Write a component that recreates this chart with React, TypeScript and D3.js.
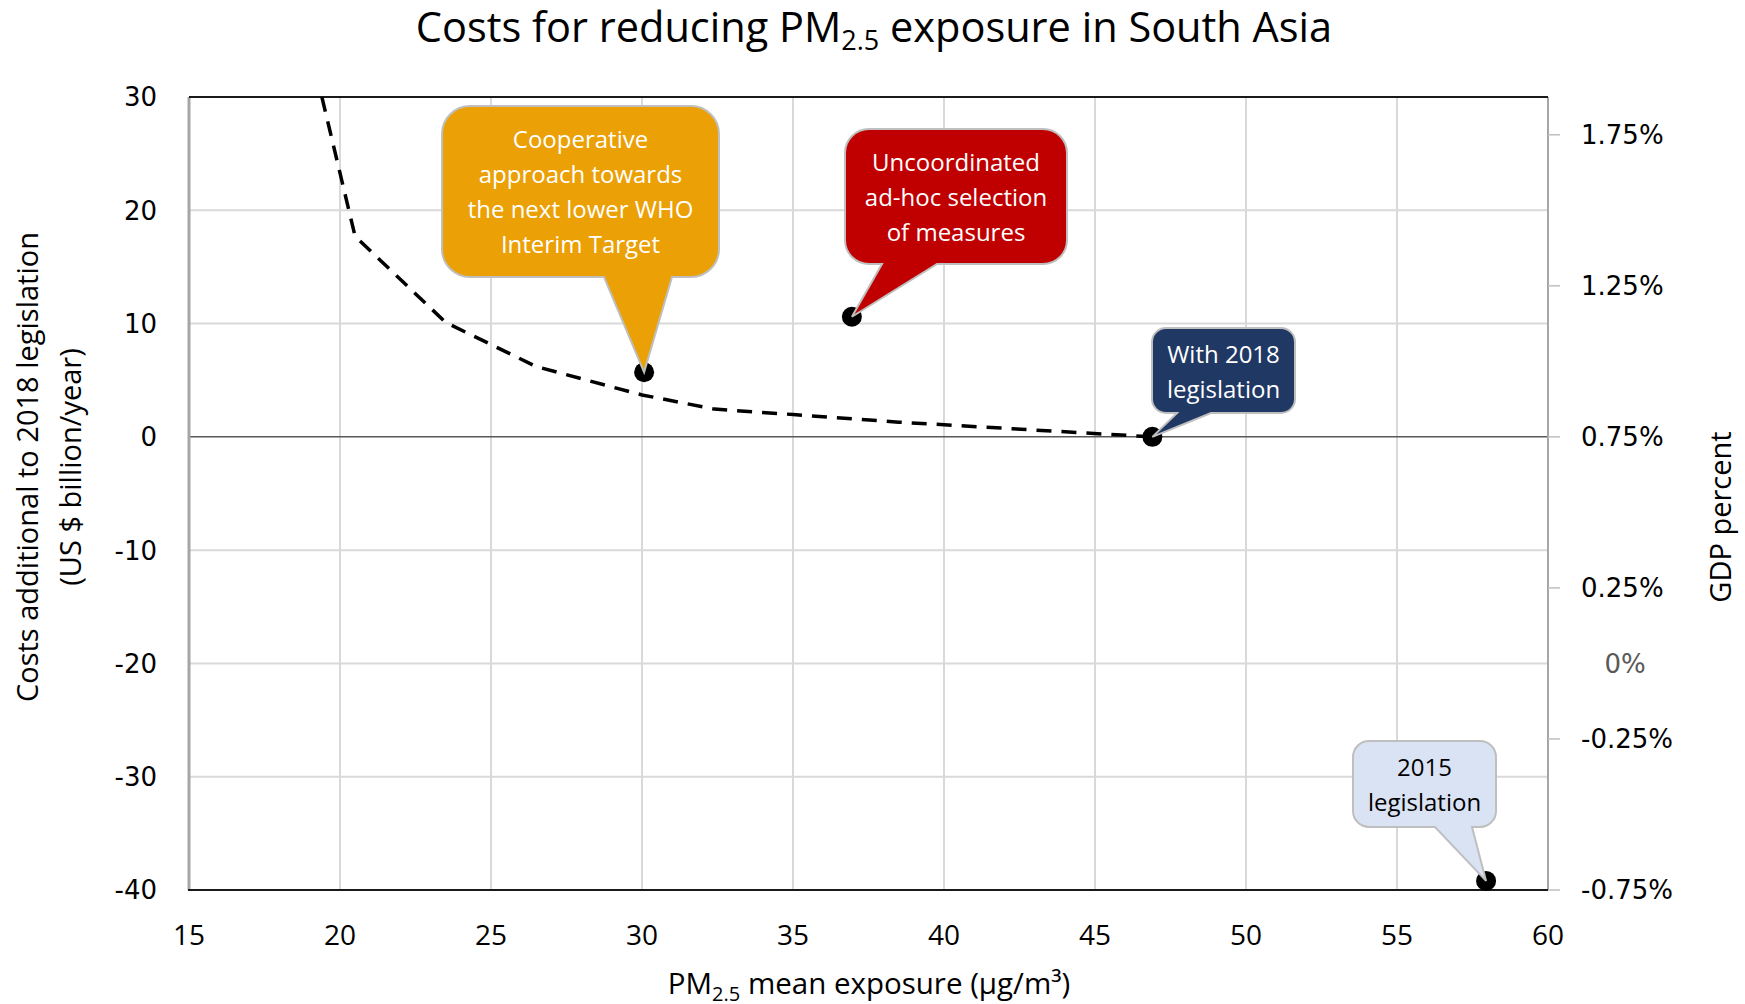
import { useEffect } from 'react';
import * as d3 from 'd3';

// marginal cost curve (dashed)
const curveX = [19.4, 20.5, 23.5, 26.5, 30.0, 32.4, 35.0, 38.5, 46.9];
const curveY = [30, 17.7, 10.1, 6.2, 3.7, 2.45, 1.97, 1.3, 0];

// scenario points with callouts
const scenarioLabels = [
  ['Cooperative', 'approach towards', 'the next lower WHO', 'Interim Target'],
  ['Uncoordinated', 'ad-hoc selection', 'of measures'],
  ['With 2018', 'legislation'],
  ['2015', 'legislation'],
];
const scenarioX = [30.07, 36.95, 46.9, 57.95];
const scenarioY = [5.7, 10.6, 0, -39.2];
const calloutFill = ['#EBA005', '#C00000', '#203864', '#DAE3F3'];
const calloutText = ['#ffffff', '#ffffff', '#ffffff', '#000000'];

const xTicks = [15, 20, 25, 30, 35, 40, 45, 50, 55, 60];
const yTicks = [-40, -30, -20, -10, 0, 10, 20, 30];
const gdpTicks = [-0.75, -0.25, 0.25, 0.75, 1.25, 1.75];

const W = 1745;
const H = 1004;
const M = { left: 189, right: 1548, top: 97, bottom: 890 };

// callout box geometry (pixels): x0, y0, x1, y1, radius, pointer base a/b, first baseline, line step
const boxes = [
  { x0: 442, y0: 106, x1: 719, y1: 277, r: 28, a: 604, b: 672, base: 148, step: 35 },
  { x0: 845, y0: 129, x1: 1067, y1: 264, r: 24, a: 882, b: 937, base: 171, step: 35 },
  { x0: 1152, y0: 328, x1: 1295, y1: 413, r: 14, a: 1177, b: 1211, base: 363, step: 35 },
  { x0: 1353, y0: 741, x1: 1496, y1: 827, r: 16, a: 1435, b: 1472, base: 776, step: 35 },
];

const sansFont = '"Open Sans", "Noto Sans", sans-serif';
const tickFont = '"DejaVu Sans", Verdana, sans-serif';

function calloutPath(bx: typeof boxes[number], tx: number, ty: number) {
  const { x0, y0, x1, y1, r, a, b } = bx;
  const p = d3.path();
  p.moveTo(x0 + r, y0);
  p.lineTo(x1 - r, y0);
  p.arcTo(x1, y0, x1, y0 + r, r);
  p.lineTo(x1, y1 - r);
  p.arcTo(x1, y1, x1 - r, y1, r);
  p.lineTo(b, y1);
  p.lineTo(tx, ty);
  p.lineTo(a, y1);
  p.lineTo(x0 + r, y1);
  p.arcTo(x0, y1, x0, y1 - r, r);
  p.lineTo(x0, y0 + r);
  p.arcTo(x0, y0, x0 + r, y0, r);
  p.closePath();
  return p.toString();
}

export default function App() {
  useEffect(() => {
    document.body.style.margin = '0';
  }, []);

  const x = d3.scaleLinear().domain([15, 60]).range([M.left, M.right]);
  const y = d3.scaleLinear().domain([-40, 30]).range([M.bottom, M.top]);
  const y2 = d3.scaleLinear().domain([-0.75, 1.875]).range([M.bottom, M.top]);

  const line = d3
    .line<number>()
    .x((_, i) => x(curveX[i]))
    .y((_, i) => y(curveY[i]));

  return (
    <svg width={W} height={H} style={{ display: 'block', background: '#fff' }}>
      <defs>
        <clipPath id="plot">
          <rect x={M.left} y={M.top} width={M.right - M.left} height={M.bottom - M.top} />
        </clipPath>
      </defs>

      {/* title */}
      <text x={874} y={42} textAnchor="middle" fontFamily={sansFont} fontSize={41.5} fill="#000">
        Costs for reducing PM
        <tspan fontSize={27} baselineShift="-8">2.5</tspan> exposure in South Asia
      </text>

      {/* grid */}
      {xTicks.slice(1, -1).map((t) => (
        <line key={'gx' + t} x1={x(t)} x2={x(t)} y1={M.top} y2={M.bottom} stroke="#d9d9d9" strokeWidth={2} />
      ))}
      {yTicks.filter((t) => t !== 0 && t !== 30 && t !== -40).map((t) => (
        <line key={'gy' + t} x1={M.left} x2={M.right} y1={y(t)} y2={y(t)} stroke="#d9d9d9" strokeWidth={2} />
      ))}

      {/* axes */}
      <line x1={M.left} x2={M.right} y1={y(0)} y2={y(0)} stroke="#595959" strokeWidth={1.5} />
      <line x1={M.left} x2={M.left} y1={M.top} y2={M.bottom} stroke="#a6a6a6" strokeWidth={3} />
      <line x1={M.right} x2={M.right} y1={M.top} y2={M.bottom} stroke="#a6a6a6" strokeWidth={2} />
      <line x1={M.left} x2={M.right} y1={M.top} y2={M.top} stroke="#1a1a1a" strokeWidth={2} />
      <line x1={M.left - 1} x2={M.right} y1={M.bottom} y2={M.bottom} stroke="#1a1a1a" strokeWidth={2} />

      {gdpTicks.map((t) => (
        <line key={'rt' + t} x1={M.right} x2={M.right + 12} y1={y2(t)} y2={y2(t)} stroke="#bfbfbf" strokeWidth={1.5} />
      ))}

      {/* tick labels */}
      {yTicks.map((t) => (
        <text key={'yl' + t} x={157} y={y(t)} dy="0.36em" textAnchor="end" fontFamily={tickFont} fontSize={26} fill="#000">
          {t}
        </text>
      ))}
      {gdpTicks.map((t) => (
        <text key={'rl' + t} x={1581} y={y2(t)} dy="0.36em" fontFamily={tickFont} fontSize={26} fill="#000">
          {t.toFixed(2) + '%'}
        </text>
      ))}
      <text x={1625} y={y2(0)} dy="0.36em" textAnchor="middle" fontFamily={tickFont} fontSize={26} fill="#595959">
        0%
      </text>
      {xTicks.map((t) => (
        <text key={'xl' + t} x={x(t)} y={945} textAnchor="middle" fontFamily={sansFont} fontSize={28} fill="#000">
          {t}
        </text>
      ))}

      {/* axis titles */}
      <text x={869} y={994} textAnchor="middle" fontFamily={sansFont} fontSize={29.5} fill="#000">
        PM
        <tspan fontSize={20} baselineShift="-7">2.5</tspan> mean exposure (µg/m³)
      </text>
      <g transform="translate(38,467) rotate(-90)">
        <text textAnchor="middle" fontFamily={sansFont} fontSize={29} fill="#000">
          Costs additional to 2018 legislation
        </text>
        <text y={43} textAnchor="middle" fontFamily={sansFont} fontSize={29} fill="#000">
          (US $ billion/year)
        </text>
      </g>
      <text
        transform="translate(1731,517) rotate(-90)"
        textAnchor="middle"
        fontFamily={sansFont}
        fontSize={29}
        fill="#000"
      >
        GDP percent
      </text>

      {/* cost curve */}
      <path
        d={line(curveX) || ''}
        fill="none"
        stroke="#000"
        strokeWidth={3.5}
        strokeDasharray="15 10"
        clipPath="url(#plot)"
      />

      {/* scenario points */}
      {scenarioX.map((v, i) => (
        <circle key={'pt' + i} cx={x(v)} cy={y(scenarioY[i])} r={10} fill="#000" />
      ))}

      {/* callouts */}
      {boxes.map((bx, i) => {
        const cx = (bx.x0 + bx.x1) / 2;
        return (
          <g key={'co' + i}>
            <path
              d={calloutPath(bx, x(scenarioX[i]), y(scenarioY[i]))}
              fill={calloutFill[i]}
              stroke="#bfbfbf"
              strokeWidth={2}
            />
            {scenarioLabels[i].map((s, j) => (
              <text
                key={j}
                x={cx}
                y={bx.base + j * bx.step}
                textAnchor="middle"
                fontFamily={sansFont}
                fontSize={24}
                fill={calloutText[i]}
              >
                {s}
              </text>
            ))}
          </g>
        );
      })}
    </svg>
  );
}
